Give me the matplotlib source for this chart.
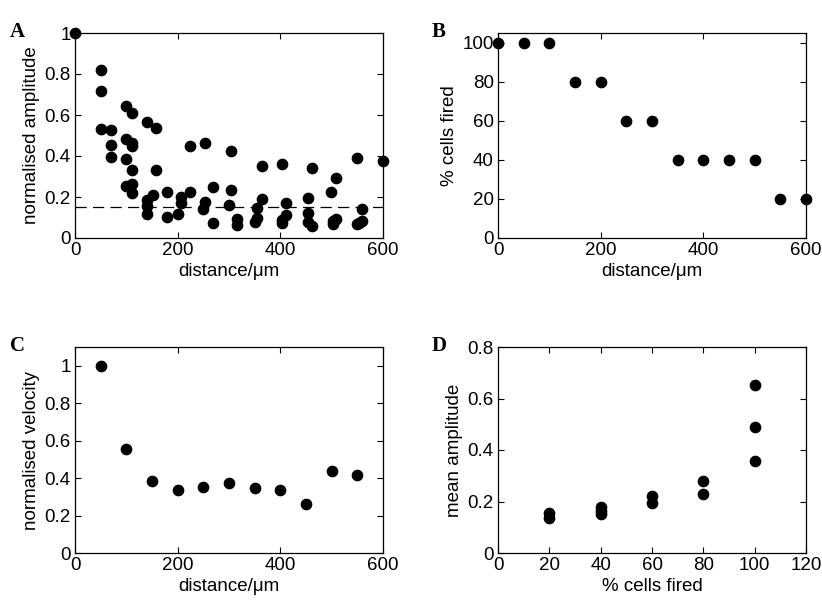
import matplotlib
matplotlib.use("Agg")
import matplotlib.pyplot as plt
from matplotlib.ticker import FuncFormatter
import numpy as np

matplotlib.rcParams['font.family'] = ['Liberation Sans', 'DejaVu Sans']
matplotlib.rcParams['font.size'] = 13.5

# panel A: normalised amplitude vs distance
amp_dist = [0, 50, 50, 50, 71, 71, 71,
            100, 112, 100, 112, 112, 100, 112, 100, 112, 112,
            141, 158, 158, 141, 141, 141, 151,
            180, 180, 200, 206, 206, 224, 224,
            254, 254, 250, 269, 269, 303, 303, 300, 316, 316,
            365, 365, 354, 354, 351,
            403, 412, 412, 403, 403,
            461, 453, 453, 453, 461,
            509, 499, 509, 503, 503,
            550, 559, 559, 553, 550, 600]
amp_val = [1.0, 0.82, 0.716, 0.53, 0.527, 0.455, 0.395,
           0.643, 0.611, 0.485, 0.462, 0.449, 0.387, 0.332, 0.256, 0.264, 0.219,
           0.566, 0.536, 0.331, 0.185, 0.154, 0.117, 0.209,
           0.225, 0.102, 0.117, 0.198, 0.170, 0.451, 0.222,
           0.464, 0.178, 0.141, 0.251, 0.073, 0.426, 0.235, 0.159, 0.094, 0.062,
           0.353, 0.190, 0.146, 0.097, 0.079,
           0.363, 0.173, 0.113, 0.089, 0.073,
           0.340, 0.194, 0.120, 0.078, 0.060,
           0.295, 0.224, 0.092, 0.081, 0.070,
           0.391, 0.143, 0.083, 0.073, 0.066, 0.376]
amp_threshold = 0.15

# panel B: % cells fired vs distance
fired_dist = [0, 50, 100, 150, 200, 250, 300, 350, 400, 450, 500, 550, 600]
fired_pct = [100, 100, 100, 80, 80, 60, 60, 40, 40, 40, 40, 20, 20]

# panel C: normalised velocity vs distance
vel_dist = [50, 100, 150, 200, 250, 300, 350, 400, 450, 500, 550]
vel_val = [1.0, 0.556, 0.385, 0.337, 0.353, 0.376, 0.346, 0.337, 0.262, 0.437, 0.414]

# panel D: mean amplitude vs % cells fired
mean_pct = [20, 20, 40, 40, 40, 60, 60, 80, 80, 100, 100, 100]
mean_amp = [0.155, 0.134, 0.177, 0.165, 0.152, 0.223, 0.194, 0.28, 0.231, 0.654, 0.489, 0.359]

W, H = 822.0, 611.0
fig = plt.figure(figsize=(W / 100, H / 100), dpi=100)


def make_axes(l, r, t, b):
    return fig.add_axes([l / W, 1 - b / H, (r - l) / W, (b - t) / H])


def style(ax):
    ax.tick_params(direction='in', top=True, right=True, length=4, width=0.8,
                   labelsize=13.5, pad=3)
    for s in ax.spines.values():
        s.set_linewidth(0.9)
    ax.yaxis.set_major_formatter(FuncFormatter(lambda v, p: "%g" % round(v, 3)))
    ax.xaxis.set_major_formatter(FuncFormatter(lambda v, p: "%g" % round(v, 3)))
    ax.xaxis.labelpad = 3
    ax.yaxis.labelpad = 3


def letter(x, y, s):
    fig.text(x / W, 1 - y / H, s, family='Liberation Serif', weight='bold',
             fontsize=15, ha='left', va='center')


ms = 7.4

# A
axA = make_axes(75, 383, 33, 238)
axA.plot(amp_dist, amp_val, 'o', color='k', ms=ms, clip_on=False)
axA.axhline(amp_threshold, color='k', lw=0.9, dashes=(9, 5))
axA.set_xlim(0, 600)
axA.set_ylim(0, 1)
axA.set_xticks([0, 200, 400, 600])
axA.set_yticks([0, 0.2, 0.4, 0.6, 0.8, 1])
axA.set_xlabel('distance/\u03bcm')
axA.set_ylabel('normalised amplitude')
style(axA)

# B
axB = make_axes(498, 806, 33, 238)
axB.plot(fired_dist, fired_pct, 'o', color='k', ms=ms, clip_on=False)
axB.set_xlim(0, 600)
axB.set_ylim(0, 105)
axB.set_xticks([0, 200, 400, 600])
axB.set_yticks([0, 20, 40, 60, 80, 100])
axB.set_xlabel('distance/\u03bcm')
axB.set_ylabel('% cells fired')
style(axB)

# C
axC = make_axes(75, 383, 347, 553)
axC.plot(vel_dist, vel_val, 'o', color='k', ms=ms, clip_on=False)
axC.set_xlim(0, 600)
axC.set_ylim(0, 1.1)
axC.set_xticks([0, 200, 400, 600])
axC.set_yticks([0, 0.2, 0.4, 0.6, 0.8, 1])
axC.set_xlabel('distance/\u03bcm')
axC.set_ylabel('normalised velocity')
style(axC)

# D
axD = make_axes(498, 806, 347, 553)
axD.plot(mean_pct, mean_amp, 'o', color='k', ms=ms, clip_on=False)
axD.set_xlim(0, 120)
axD.set_ylim(0, 0.8)
axD.set_xticks([0, 20, 40, 60, 80, 100, 120])
axD.set_yticks([0, 0.2, 0.4, 0.6, 0.8])
axD.set_xlabel('% cells fired')
axD.set_ylabel('mean amplitude')
style(axD)

letter(10, 32, 'A')
letter(432, 32, 'B')
letter(10, 346, 'C')
letter(432, 346, 'D')

fig.savefig('out.png', dpi=100)
